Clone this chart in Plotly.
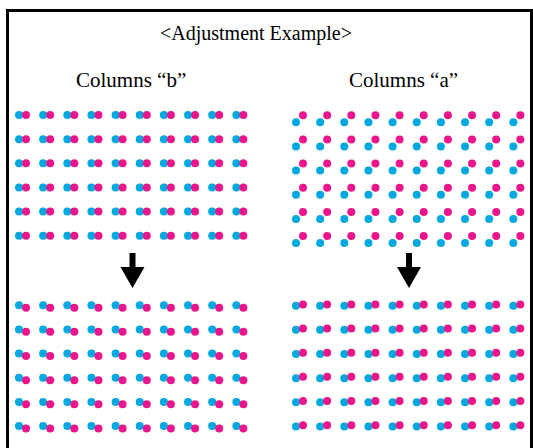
import plotly.graph_objects as go

W, H = 533, 448

# grid of dot pairs: 10 columns x 6 rows in every panel
columns = list(range(10))
rows = list(range(6))

panel_names = ["before_b", "before_a", "after_b", "after_a"]
# offset of the magenta dot from the cyan dot, in grid units (dx, dy; +dy = down)
magenta_dx = [0.29, 0.29, 0.29, 0.29]
magenta_dy = [0.0, -0.29, 0.10, -0.055]

title_text = "&lt;Adjustment Example&gt;"
column_labels = ["Columns \u201cb\u201d", "Columns \u201ca\u201d"]

CYAN = "#00a8e0"
MAGENTA = "#ec168c"
FONT = "Liberation Serif, Times New Roman, serif"

# pixel placement of each panel (first cyan dot) and the grid step
STEP = 24.15
origins = [(19, 115), (296, 122.3), (19, 305.3), (296, 305.7)]

fig = go.Figure()
layout = {}

for i, name in enumerate(panel_names):
    ax = i + 1
    x0, y0 = origins[i]
    left = x0 - 0.5 * STEP
    right = x0 + 9.5 * STEP
    top = y0 - 0.5 * STEP
    bottom = y0 + 5.5 * STEP
    layout[f"xaxis{ax}"] = dict(domain=[left / W, right / W], range=[-0.5, 9.5],
                                visible=False, fixedrange=True, anchor=f"y{ax}")
    layout[f"yaxis{ax}"] = dict(domain=[1 - bottom / H, 1 - top / H], range=[5.5, -0.5],
                                visible=False, fixedrange=True, anchor=f"x{ax}")

    cx = [c for r in rows for c in columns]
    cy = [r for r in rows for c in columns]
    fig.add_trace(go.Scatter(x=cx, y=cy, mode="markers",
                             marker=dict(size=8, color=CYAN),
                             xaxis=f"x{ax}", yaxis=f"y{ax}", showlegend=False,
                             hoverinfo="skip"))
    mx = [c + magenta_dx[i] for c in cx]
    my = [r + magenta_dy[i] for r in cy]
    fig.add_trace(go.Scatter(x=mx, y=my, mode="markers",
                             marker=dict(size=8, color=MAGENTA),
                             xaxis=f"x{ax}", yaxis=f"y{ax}", showlegend=False,
                             hoverinfo="skip"))

# full-canvas axis in pixel units for the frame, arrows and labels
layout["xaxis5"] = dict(domain=[0, 1], range=[0, W], visible=False, fixedrange=True, anchor="y5")
layout["yaxis5"] = dict(domain=[0, 1], range=[H, 0], visible=False, fixedrange=True, anchor="x5")
fig.add_trace(go.Scatter(x=[0], y=[0], mode="markers", marker=dict(opacity=0),
                         xaxis="x5", yaxis="y5", showlegend=False, hoverinfo="skip"))

shapes = [dict(type="rect", xref="x5", yref="y5", x0=7.5, y0=10.5, x1=531.5, y1=470,
               line=dict(color="black", width=3))]
for cx_ in [132.5, 409]:
    shapes.append(dict(type="rect", xref="x5", yref="y5", x0=cx_ - 3, x1=cx_ + 3,
                       y0=253, y1=268, fillcolor="black", line=dict(width=0)))
    shapes.append(dict(type="path", xref="x5", yref="y5",
                       path=f"M {cx_-12} 267 L {cx_+12} 267 L {cx_} 288 Z",
                       fillcolor="black", line=dict(width=0)))

annotations = [dict(x=256, y=33, xref="x5", yref="y5", text=title_text, showarrow=False,
                    font=dict(family=FONT, size=20, color="black"))]
for lx, lab in zip([131, 403], column_labels):
    annotations.append(dict(x=lx, y=80, xref="x5", yref="y5", text=lab, showarrow=False,
                            font=dict(family=FONT, size=21, color="black")))

fig.update_layout(width=W, height=H, margin=dict(l=0, r=0, t=0, b=0),
                  paper_bgcolor="white", plot_bgcolor="rgba(0,0,0,0)",
                  shapes=shapes, annotations=annotations, **layout)

fig.write_html("out.html", config={"displayModeBar": False},
               post_script="document.body.style.margin='0';document.body.style.overflow='hidden';")
